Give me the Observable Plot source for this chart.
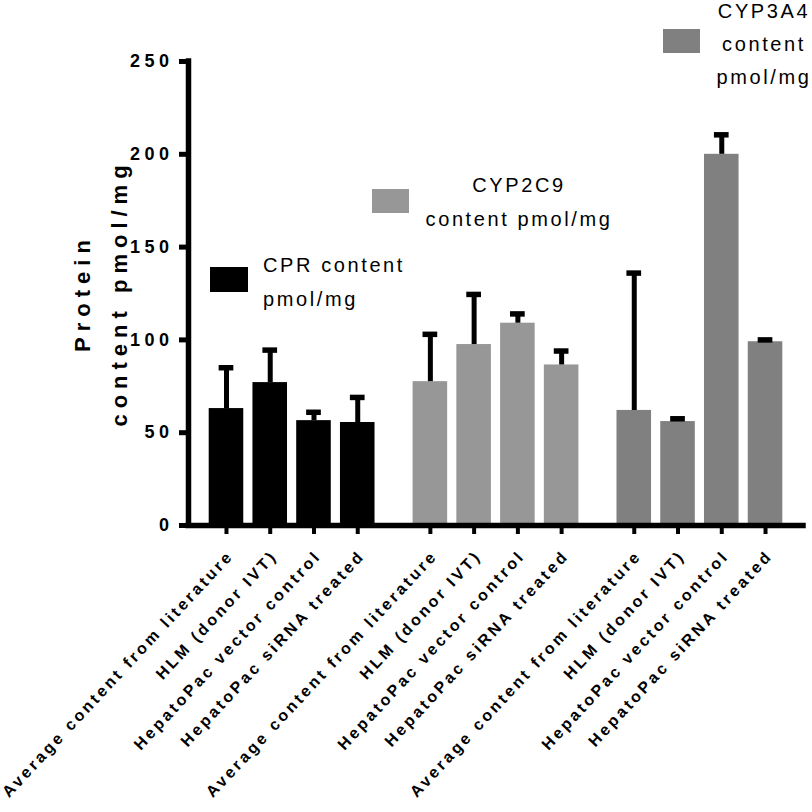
<!DOCTYPE html>
<html><head><meta charset="utf-8">
<script src="https://cdn.jsdelivr.net/npm/d3@7"></script>
<script src="https://cdn.jsdelivr.net/npm/@observablehq/plot@0.6"></script>
<style>
body{margin:0;background:#fff;}
#chart svg{display:block;}
</style></head><body><div id="chart"></div>
<script>
// ---- data ----
const groups = ["CPR", "CYP2C9", "CYP3A4"];
const legendLines = [["CPR content", "pmol/mg"], ["CYP2C9", "content pmol/mg"], ["CYP3A4", "content", "pmol/mg"]];
const conditions = ["Average content from literature", "HLM (donor IVT)", "HepatoPac vector control", "HepatoPac siRNA treated"];
const cprMean = [63, 77, 56.5, 55.5];
const cprErr = [85, 94.5, 61, 69];
const cyp2c9Mean = [77.5, 97.5, 109, 86.5];
const cyp2c9Err = [103, 124.5, 114, 94];
const cyp3a4Mean = [62, 56, 200, 99];
const cyp3a4Err = [136, 57.5, 210.5, 100];
const groupColors = ["#000000", "#979797", "#808080"];
const yTicks = [0, 50, 100, 150, 200, 250];
const yLabel = ["Protein", "content pmol/mg"];

// ---- build table ----
const means = [cprMean, cyp2c9Mean, cyp3a4Mean];
const errs = [cprErr, cyp2c9Err, cyp3a4Err];
const groupGap = 0.66;
const rows = [];
groups.forEach((g, gi) => conditions.forEach((c, ci) => {
  rows.push({group: g, condition: c, value: means[gi][ci], err: errs[gi][ci],
             pos: gi * (conditions.length + groupGap) + ci});
}));
const positions = rows.map(d => d.pos);
const edge = 0.868;
const xDomain = [d3.min(positions) - edge, d3.max(positions) + edge];
const halfBar = 0.395, capHalf = 0.168;
const FONT = '"Liberation Sans", Arial, Helvetica, sans-serif';

const chart = Plot.plot({
  width: 812, height: 812,
  marginLeft: 188, marginRight: 9, marginTop: 61, marginBottom: 287,
  style: {fontFamily: FONT, color: "#000", background: "#fff"},
  x: {type: "linear", domain: xDomain},
  y: {domain: [0, 250]},
  color: {domain: groups, range: groupColors},
  marks: [
    Plot.rectY(rows, {x1: d => d.pos - halfBar, x2: d => d.pos + halfBar, y1: 0, y2: "value", fill: "group"}),
    Plot.ruleX(rows, {x: "pos", y1: "value", y2: "err", stroke: "#000", strokeWidth: 5}),
    Plot.ruleY(rows, {y: "err", x1: d => d.pos - capHalf, x2: d => d.pos + capHalf, stroke: "#000", strokeWidth: 5.5}),
    Plot.ruleY([0], {stroke: "#000", strokeWidth: 5.5, strokeLinecap: "square"}),
    Plot.ruleX([xDomain[0]], {stroke: "#000", strokeWidth: 5.5, strokeLinecap: "square"}),
    Plot.axisY({ticks: yTicks, tickSize: 9, tickPadding: 6, strokeWidth: 5, fontSize: 18, fontWeight: "bold", label: null}),
    Plot.axisX({ticks: positions, tickFormat: () => "", tickSize: 9, strokeWidth: 4, label: null}),
    Plot.text(rows, {x: "pos", text: "condition", frameAnchor: "bottom", rotate: -47, textAnchor: "end",
                     dx: 8, dy: 31, fontSize: 16, fontWeight: "bold", fill: "#000"})
  ]
});
document.getElementById("chart").appendChild(chart);

const svg = d3.select(chart);
svg.selectAll('g[aria-label="y-axis tick label"] text').attr("letter-spacing", 4.5);
const condSet = new Set(conditions);
svg.selectAll("text").filter(function() { return condSet.has(this.textContent); }).attr("letter-spacing", 3.0);

// y-axis title
const yl = svg.append("text").attr("transform", "translate(90,293) rotate(-90)")
  .attr("text-anchor", "middle").attr("font-family", FONT).attr("font-weight", "bold")
  .attr("font-size", 22).attr("letter-spacing", 6).attr("fill", "#000");
yLabel.forEach((t, i) => yl.append("tspan").attr("x", 0).attr("y", i * 37).text(t));

// legend annotations
const legendSpec = [
  {swatch: [210, 267, 38, 25], anchor: "start", x: 263, baselines: [272, 306]},
  {swatch: [372, 189, 37, 24], anchor: "middle", x: 519, baselines: [192, 226]},
  {swatch: [663, 29, 37, 24], anchor: "middle", x: 764, baselines: [18, 51, 84]}
];
legendSpec.forEach((s, gi) => {
  const g = svg.append("g");
  g.append("rect").attr("x", s.swatch[0]).attr("y", s.swatch[1]).attr("width", s.swatch[2]).attr("height", s.swatch[3])
    .attr("fill", groupColors[gi]);
  legendLines[gi].forEach((t, li) => {
    g.append("text").attr("x", s.x).attr("y", s.baselines[li]).attr("text-anchor", s.anchor)
      .attr("font-family", FONT).attr("font-size", 20).attr("letter-spacing", 2.6).attr("fill", "#000").text(t);
  });
});
</script></body></html>
